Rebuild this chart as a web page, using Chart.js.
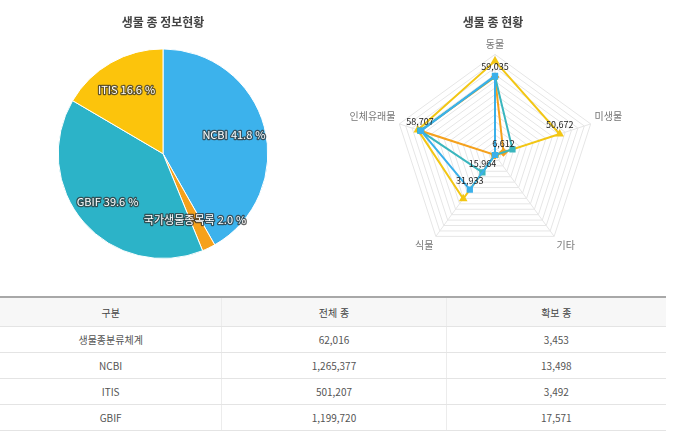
<!DOCTYPE html>
<html lang="ko">
<head>
<meta charset="utf-8">
<script src="https://cdn.jsdelivr.net/npm/chart.js@4.4.1/dist/chart.umd.min.js"></script>
<style>
  body { margin: 0; background: #fff; font-family: "Noto Sans CJK KR", sans-serif; }
  #pieBox { position: absolute; left: 0; top: 0; width: 326px; height: 270px; }
  #radarBox { position: absolute; left: 338px; top: 0; width: 310px; height: 265px; }
  table { position: absolute; left: 0; top: 296px; width: 666px; border-collapse: collapse; font-size: 10px; color: #555; }
  th, td { text-align: center; border-bottom: 1px solid #e4e4e4; padding: 0; font-weight: normal; }
  th { height: 28px; background: #f7f7f7; border-top: 2px solid #a8a8a8; color: #444; }
  td { height: 25px; }
  td + td, th + th { border-left: 1px solid #ececec; }
</style>
</head>
<body>
<div id="pieBox"><canvas id="pieChart"></canvas></div>
<div id="radarBox"><canvas id="radarChart"></canvas></div>
<table id="speciesTable"></table>
<script>
const FONT = "'Noto Sans CJK KR', 'Noto Sans', sans-serif";

// pie: 생물 종 정보현황
const pieLabels = ["NCBI", "국가생물종목록", "GBIF", "ITIS"];
const pieValues = [1265377, 62016, 1199720, 501207];
const pieColors = ["#3cb2ec", "#f6a11b", "#2cb3c8", "#fcc40c"];

// radar: 생물 종 현황
const radarAxes = ["동물", "미생물", "기타", "식물", "인체유래물"];
const radarBlue = [59035, 0, 0, 31933, 58000];
const radarTeal = [58500, 13700, 0, 15964, 58707];
const radarOrange = [58200, 6612, 0, 0, 58400];
const radarYellow = [70000, 50672, 0, 40300, 60500];
// [dataset, point] pairs that get a value label
const labelledPoints = [[0, 0], [3, 1], [1, 4], [0, 3], [1, 3], [2, 1]];

// table
const tableHeads = ["구분", "전체 종", "확보 종"];
const tableRows = ["생물종분류체계", "NCBI", "ITIS", "GBIF"];
const totalSpecies = [62016, 1265377, 501207, 1199720];
const securedSpecies = [3453, 13498, 3492, 17571];

const fmt = v => v.toLocaleString("en-US");

const table = document.getElementById("speciesTable");
table.innerHTML = `
  <tr>${tableHeads.map((h, i) => `<th style="width:${[222, 224, 220][i]}px">${h}</th>`).join("")}</tr>
  ${tableRows.map((r, i) => `<tr><td>${r}</td><td>${fmt(totalSpecies[i])}</td><td>${fmt(securedSpecies[i])}</td></tr>`).join("")}
`;

const pieText = {
  id: "pieText",
  afterDatasetsDraw(chart) {
    const ctx = chart.ctx;
    const total = pieValues.reduce((a, b) => a + b, 0);
    chart.getDatasetMeta(0).data.forEach((arc, i) => {
      const mid = (arc.startAngle + arc.endAngle) / 2;
      const r = arc.outerRadius * 0.7;
      const x = arc.x + Math.cos(mid) * r;
      const y = arc.y + Math.sin(mid) * r;
      const text = pieLabels[i] + " " + (pieValues[i] / total * 100).toFixed(1) + " %";
      ctx.save();
      ctx.font = "11px " + FONT;
      ctx.textAlign = "center";
      ctx.textBaseline = "middle";
      ctx.lineJoin = "round";
      ctx.lineWidth = 2.5;
      ctx.strokeStyle = "rgba(50,50,50,0.75)";
      ctx.strokeText(text, x, y);
      ctx.fillStyle = "#fff";
      ctx.fillText(text, x, y);
      ctx.restore();
    });
  }
};

new Chart(document.getElementById("pieChart"), {
  type: "pie",
  data: {
    labels: pieLabels,
    datasets: [{ data: pieValues, backgroundColor: pieColors, borderColor: "#fff", borderWidth: 1 }]
  },
  options: {
    responsive: true,
    maintainAspectRatio: false,
    animation: false,
    layout: { padding: { bottom: 11 } },
    plugins: {
      legend: { display: false },
      tooltip: { enabled: false },
      title: {
        display: true, text: "생물 종 정보현황", color: "#444",
        font: { size: 12, weight: "bold", family: FONT },
        padding: { top: 15, bottom: 19 }
      }
    }
  },
  plugins: [pieText]
});

const radarText = {
  id: "radarText",
  afterDatasetsDraw(chart) {
    const ctx = chart.ctx;
    ctx.save();
    ctx.font = "9px " + FONT;
    ctx.fillStyle = "#222";
    ctx.textAlign = "center";
    ctx.textBaseline = "middle";
    for (const [d, p] of labelledPoints) {
      const pt = chart.getDatasetMeta(d).data[p];
      ctx.fillText(fmt(chart.data.datasets[d].data[p]), pt.x, pt.y - 9);
    }
    ctx.restore();
  }
};

const series = (data, color, style) => ({
  data, borderColor: color, backgroundColor: color, pointBackgroundColor: color,
  pointStyle: style, pointRadius: 3, borderWidth: 2, fill: false
});

new Chart(document.getElementById("radarChart"), {
  type: "radar",
  data: {
    labels: radarAxes,
    datasets: [
      series(radarBlue, "#3ab0ea", "rect"),
      series(radarTeal, "#3ab6be", "rect"),
      series(radarOrange, "#f5a11d", "rectRot"),
      series(radarYellow, "#f2c614", "triangle")
    ]
  },
  options: {
    responsive: true,
    maintainAspectRatio: false,
    animation: false,
    plugins: {
      legend: { display: false },
      tooltip: { enabled: false },
      title: {
        display: true, text: "생물 종 현황", color: "#444",
        font: { size: 12, weight: "bold", family: FONT },
        padding: { top: 15, bottom: 2 }
      }
    },
    scales: {
      r: {
        min: 0, max: 75000,
        ticks: { stepSize: 5000, display: false },
        grid: { color: "#e6e6e6" },
        angleLines: { color: "#e6e6e6" },
        pointLabels: { font: { size: 10, family: FONT }, color: "#777", padding: 4 }
      }
    }
  },
  plugins: [radarText]
});
</script>
</body>
</html>
